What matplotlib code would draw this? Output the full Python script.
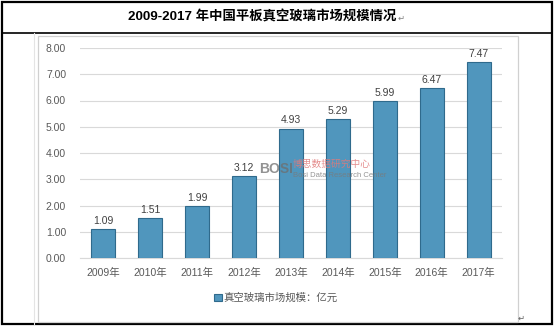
import matplotlib
matplotlib.use("Agg")
import matplotlib.pyplot as plt
from matplotlib.patches import Rectangle
from matplotlib.lines import Line2D

years = ["2009年", "2010年", "2011年", "2012年", "2013年", "2014年", "2015年", "2016年", "2017年"]
market_size = [1.09, 1.51, 1.99, 3.12, 4.93, 5.29, 5.99, 6.47, 7.47]
y_ticks = [0, 1, 2, 3, 4, 5, 6, 7, 8]
title = "2009-2017 年中国平板真空玻璃市场规模情况"
series_name = "真空玻璃市场规模：亿元"

plt.rcParams['font.family'] = ['Liberation Sans', 'Noto Sans CJK SC', 'DejaVu Sans']

W, H = 557, 327
fig = plt.figure(figsize=(W / 100, H / 100), dpi=100)


def fx(px):
    return px / W


def fy(py):
    return 1 - py / H


# page frame: outer border, title row separator, inner chart box
fig.add_artist(Rectangle((fx(1.5), fy(324)), fx(552) - fx(1.5), fy(1.5) - fy(324),
                         transform=fig.transFigure, fill=False, edgecolor='black', lw=1.6))
fig.add_artist(Line2D([fx(1.5), fx(552)], [fy(33), fy(33)], transform=fig.transFigure,
                      color='black', lw=1.2))
fig.add_artist(Line2D([fx(33.5), fx(33.5)], [fy(33), fy(324)], transform=fig.transFigure,
                      color='#e4e4e4', lw=0.8))
fig.add_artist(Rectangle((fx(37.5), fy(321.5)), fx(517.5) - fx(37.5), fy(35.5) - fy(321.5),
                         transform=fig.transFigure, fill=False, edgecolor='#d0d0d0', lw=0.9))

fig.text(fx(262), fy(17), title, ha='center', va='center', fontsize=9.6,
         fontweight='bold', color='black')
fig.text(fx(401), fy(18), "↵", ha='center', va='center', fontsize=6,
         color='#808080', family='DejaVu Sans')
fig.text(fx(521), fy(318), "↵", ha='center', va='center', fontsize=6,
         color='#606060', family='DejaVu Sans')

ax = fig.add_axes([fx(80), fy(258), fx(502) - fx(80), fy(48) - fy(258)])
x = list(range(len(years)))
bars = ax.bar(x, market_size, width=0.51, color='#5096bd', edgecolor='#2f6a8c', lw=0.8,
              zorder=3, label=series_name)

for xi, v in zip(x, market_size):
    ax.text(xi, v + 0.12, f"{v:.2f}", ha='center', va='bottom', fontsize=7.5,
            color='#404040', zorder=4)

ax.set_xlim(-0.5, len(years) - 0.5)
ax.set_ylim(0, 8)
ax.set_yticks(y_ticks)
ax.set_yticklabels([f"{t:.2f}" for t in y_ticks])
ax.set_xticks(x)
ax.set_xticklabels(years)
ax.tick_params(axis='both', length=0, labelsize=7.5, labelcolor='#595959')
ax.tick_params(axis='y', pad=10)
ax.tick_params(axis='x', pad=7)
ax.grid(axis='y', color='#d9d9d9', lw=0.8, zorder=0)
for s in ['top', 'right', 'left']:
    ax.spines[s].set_visible(False)
ax.spines['bottom'].set_color('#d9d9d9')

leg = fig.legend(handles=[bars], labels=[series_name], loc='center',
                 bbox_to_anchor=(fx(276), fy(298)), frameon=False, fontsize=7.5,
                 handlelength=0.7, handleheight=0.7, handletextpad=0.2)
for t in leg.get_texts():
    t.set_color('#595959')

# watermark drawn over the bars
ax.text(fx(259), fy(169), "BOSI", transform=fig.transFigure, fontsize=10,
        fontweight='bold', color='#6e6e6e', alpha=0.75, ha='left', va='center',
        zorder=10, clip_on=False)
ax.text(fx(293), fy(164), "博思数据研究中心", transform=fig.transFigure, fontsize=7,
        color='#e07a7a', alpha=0.85, ha='left', va='center', zorder=10, clip_on=False)
ax.text(fx(293), fy(175), "Bosi Data Research Center", transform=fig.transFigure,
        fontsize=5.5, color='#7a7a7a', alpha=0.8, ha='left', va='center', zorder=10,
        clip_on=False)

fig.savefig("out.png", dpi=100)
